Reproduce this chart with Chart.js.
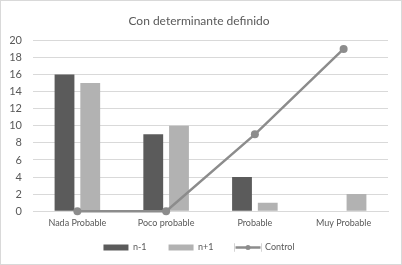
<!DOCTYPE html>
<html><head><meta charset="utf-8">
<script src="https://cdn.jsdelivr.net/npm/chart.js@4"></script>
<style>
html,body{margin:0;padding:0;background:#fff;}
#wrap{position:absolute;left:0;top:0;width:400px;height:263px;border:1px solid #d9d9d9;}
canvas{display:block;}
</style></head><body>
<div id="wrap"><canvas id="c" width="400" height="263"></canvas></div>
<script>
const categories = ["Nada Probable", "Poco probable", "Probable", "Muy Probable"];
const nMinus1 = [16, 9, 4, null];
const nPlus1 = [15, 10, 1, 2];
const control = [0, 0, 9, 19];
const yTicks = [0, 2, 4, 6, 8, 10, 12, 14, 16, 18, 20];

const FONT = "Lato, 'Open Sans', sans-serif";
const TXT = "#595959";
const LEGEND_TOP = 220;

const legendTweaks = {
  id: 'legendTweaks',
  beforeInit(chart) {
    const lg = chart.legend;
    if (!lg) return;
    const origFit = lg.fit;
    lg.fit = function () { origFit.call(this); this.height = 28; };
  },
  afterLayout(chart) {
    const lg = chart.legend;
    if (!lg) return;
    lg.top = LEGEND_TOP;
    lg.height = lg.bottom - LEGEND_TOP;
  },
  afterDraw(chart) {
    const lg = chart.legend;
    if (!lg || !lg.legendHitBoxes) return;
    const idx = lg.legendItems.findIndex(it => it.text === 'Control');
    const hb = lg.legendHitBoxes[idx];
    if (!hb) return;
    const ctx = chart.ctx;
    const bw = lg.options.labels.boxWidth;
    const cx = hb.left + bw / 2;
    const cy = hb.top + hb.height / 2;
    ctx.save();
    ctx.fillStyle = '#fff';
    ctx.fillRect(hb.left - 1, cy - 5, bw + 2, 10);
    ctx.strokeStyle = '#8c8c8c';
    ctx.lineWidth = 2.5;
    ctx.beginPath();
    ctx.moveTo(hb.left, cy);
    ctx.lineTo(hb.left + bw, cy);
    ctx.stroke();
    ctx.fillStyle = '#8c8c8c';
    ctx.beginPath();
    ctx.arc(cx, cy, 2.5, 0, Math.PI * 2);
    ctx.fill();
    ctx.restore();
  }
};

new Chart(document.getElementById('c'), {
  type: 'bar',
  data: {
    labels: categories,
    datasets: [
      {label: 'n-1', data: nMinus1, backgroundColor: '#5b5b5b', borderWidth: 0,
       barPercentage: 0.77, categoryPercentage: 0.58, order: 2},
      {label: 'n+1', data: nPlus1, backgroundColor: '#b2b2b2', borderWidth: 0,
       barPercentage: 0.77, categoryPercentage: 0.58, order: 2},
      {label: 'Control', type: 'line', data: control, borderColor: '#8c8c8c',
       backgroundColor: '#8c8c8c', borderWidth: 2.5, pointRadius: 4,
       pointBackgroundColor: '#8c8c8c', pointBorderWidth: 0, order: 1, tension: 0,
       clip: false}
    ]
  },
  options: {
    responsive: false,
    animation: false,
    devicePixelRatio: 1,
    layout: {padding: {left: 9, right: 13, top: 7, bottom: 2}},
    plugins: {
      title: {display: true, text: 'Con determinante definido', color: TXT,
        font: {family: FONT, size: 12, weight: 'normal'}, padding: {top: 6, bottom: 12}},
      legend: {position: 'bottom',
        labels: {color: TXT, font: {family: FONT, size: 9}, boxWidth: 25, boxHeight: 6, padding: 22,
          sort: (a, b) => a.datasetIndex - b.datasetIndex}},
      tooltip: {enabled: false}
    },
    scales: {
      x: {
        afterFit(s) { s.paddingLeft = 0; s.paddingRight = 0; },
        grid: {display: false, drawTicks: false, tickLength: 0},
        border: {display: true, color: '#d9d9d9'},
        ticks: {color: TXT, font: {family: FONT, size: 9}, padding: 6}
      },
      y: {
        min: 0, max: 20,
        afterBuildTicks(s) { s.ticks = yTicks.map(v => ({value: v})); },
        afterFit(s) { s.width = 23; },
        grid: {color: '#d9d9d9', drawTicks: false, tickLength: 0},
        border: {display: false},
        ticks: {color: TXT, font: {family: FONT, size: 11}, padding: 11, autoSkip: false}
      }
    }
  },
  plugins: [legendTweaks]
});
</script>
</body></html>
